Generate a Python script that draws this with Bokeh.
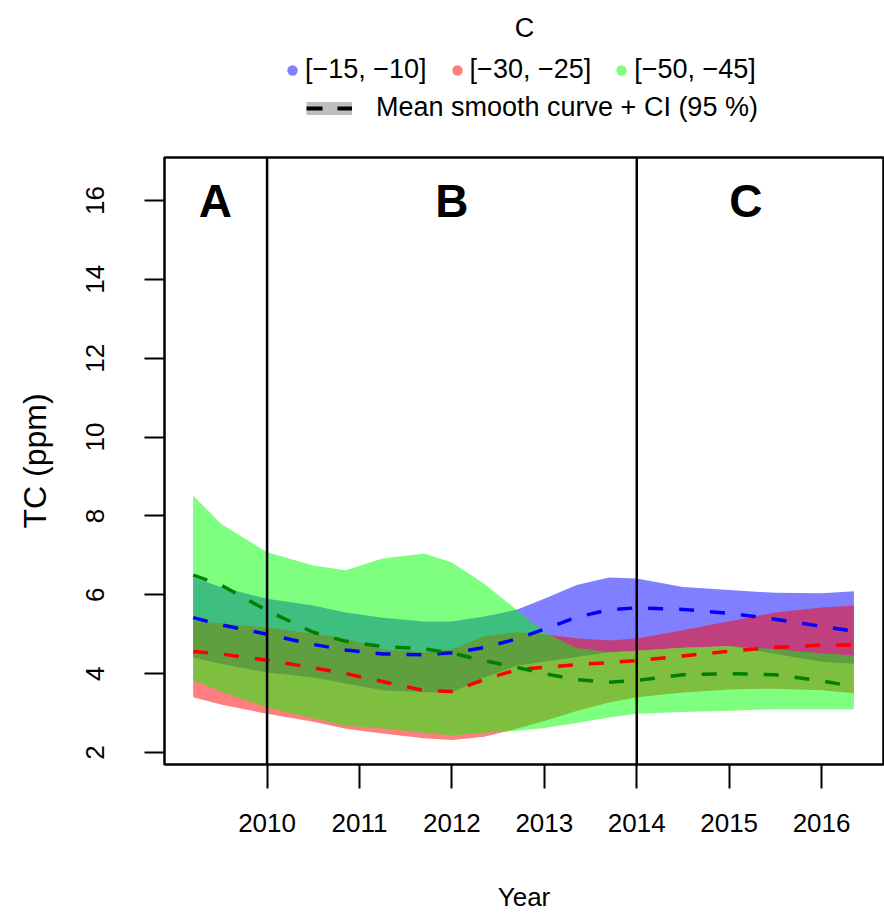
from bokeh.plotting import figure
from bokeh.layouts import column
from bokeh.models import Range1d, FixedTicker, Span, Label, Legend, LegendItem
from bokeh.core.properties import value
from bokeh.embed import file_html
from bokeh.resources import INLINE

# ---------------- data ----------------
years = [2009.2, 2009.5, 2010.0, 2010.5, 2010.85, 2011.25, 2011.7, 2012.0, 2012.35,
         2012.7, 2013.0, 2013.35, 2013.7, 2014.0, 2014.5, 2015.0, 2015.5, 2016.0, 2016.35]

blue_mean  = [5.42, 5.24, 5.00, 4.74, 4.60, 4.50, 4.48, 4.53, 4.66, 4.88, 5.13, 5.43, 5.62, 5.67, 5.63, 5.53, 5.38, 5.20, 5.08]
blue_upper = [6.44, 6.20, 5.90, 5.73, 5.55, 5.42, 5.32, 5.32, 5.45, 5.62, 5.90, 6.25, 6.44, 6.41, 6.20, 6.12, 6.05, 6.04, 6.09]
blue_lower = [4.41, 4.25, 4.03, 3.90, 3.75, 3.58, 3.53, 3.52, 3.90, 4.20, 4.30, 4.42, 4.54, 4.58, 4.66, 4.70, 4.50, 4.30, 4.25]

red_mean  = [4.56, 4.50, 4.34, 4.15, 4.00, 3.80, 3.57, 3.55, 3.85, 4.10, 4.16, 4.23, 4.28, 4.33, 4.45, 4.57, 4.67, 4.72, 4.73]
red_upper = [5.35, 5.27, 5.17, 5.02, 4.89, 4.62, 4.55, 4.62, 4.95, 5.05, 5.00, 4.90, 4.84, 4.89, 5.10, 5.33, 5.55, 5.68, 5.73]
red_lower = [3.40, 3.22, 2.98, 2.78, 2.60, 2.48, 2.36, 2.32, 2.40, 2.60, 2.80, 3.05, 3.27, 3.40, 3.52, 3.60, 3.62, 3.58, 3.50]

green_mean  = [6.50, 6.25, 5.60, 5.05, 4.82, 4.69, 4.63, 4.52, 4.33, 4.16, 4.00, 3.85, 3.78, 3.83, 3.97, 4.00, 3.97, 3.82, 3.67]
green_upper = [8.52, 7.80, 7.08, 6.74, 6.62, 6.92, 7.05, 6.82, 6.28, 5.62, 5.05, 4.65, 4.54, 4.58, 4.66, 4.70, 4.62, 4.52, 4.46]
green_lower = [3.83, 3.55, 3.14, 2.86, 2.68, 2.61, 2.50, 2.43, 2.50, 2.55, 2.62, 2.75, 2.89, 2.98, 3.03, 3.06, 3.10, 3.10, 3.10]

series_labels = ["[\u221215, \u221210]", "[\u221230, \u221225]", "[\u221250, \u221245]"]
legend_title = "C"
mean_label = "Mean smooth curve + CI (95 %)"

x_ticks = [2010, 2011, 2012, 2013, 2014, 2015, 2016]
y_ticks = [2, 4, 6, 8, 10, 12, 14, 16]
period_bounds = [2010, 2014]
panel_labels = ["A", "B", "C"]
panel_x = [2009.44, 2012.0, 2015.18]
panel_y = [15.98, 15.98, 15.98]

FONT = "Liberation Sans"
W = 884
LEG_H = 153
FRAME_L = 164  # left edge of the plot frames (legend strip frame is aligned to it)

# ---------------- legend strip (top) ----------------
lf = figure(width=W, height=LEG_H, output_backend="svg", toolbar_location=None,
            x_range=Range1d(0, 100), y_range=Range1d(0, 100),
            x_axis_type=None, y_axis_type=None,
            min_border_left=0, min_border_right=0, min_border_top=0, min_border_bottom=0)
lf.xgrid.visible = False
lf.ygrid.visible = False
lf.outline_line_color = None
lf.background_fill_color = "white"
lf.border_fill_color = "white"

# legend-only renderers: one point placed far outside the visible range
dot_cols = ["#7f7fff", "#ff7f7f", "#7fff7f"]
dot_rs = [lf.scatter(x=[-1000], y=[-1000], size=12, fill_color=c, line_color=None) for c in dot_cols]
band_r = lf.line(x=[-1000, -999], y=[-1000, -1000], line_color="#bebebe", line_width=13)
dash_r = lf.line(x=[-1000, -999], y=[-1000, -1000], line_color="black", line_width=4, line_dash="16 15")

leg1 = Legend(items=[LegendItem(label=l, renderers=[r]) for l, r in zip(series_labels, dot_rs)],
              orientation="horizontal", location=(279 - FRAME_L, 68), glyph_width=26, glyph_height=30,
              label_height=30, label_standoff=0, spacing=17, padding=0, margin=0,
              border_line_color=None, background_fill_alpha=0,
              label_text_font=FONT, label_text_font_size="27px", label_text_color="black")
leg2 = Legend(items=[LegendItem(label=mean_label, renderers=[band_r, dash_r])],
              orientation="horizontal", location=(306 - FRAME_L, 30), glyph_width=46, glyph_height=30,
              label_height=30, label_standoff=24, padding=0, margin=0,
              border_line_color=None, background_fill_alpha=0,
              label_text_font=FONT, label_text_font_size="27px", label_text_color="black")
lf.add_layout(leg1)
lf.add_layout(leg2)
lf.add_layout(Label(x=524 - FRAME_L, y=126, x_units="screen", y_units="screen", text=legend_title,
                    text_align="center", text_baseline="alphabetic", text_font=FONT,
                    text_font_size="27px", text_color="black"))

# ---------------- main plot ----------------
p = figure(width=W, height=919 - LEG_H, output_backend="svg", toolbar_location=None,
           x_range=Range1d(2008.89, 2016.67), y_range=Range1d(1.696, 17.09),
           min_border_left=FRAME_L, min_border_right=1, min_border_top=4,
           min_border_bottom=919 - LEG_H - 4 - 607)
p.xgrid.visible = False
p.ygrid.visible = False
p.background_fill_color = "white"
p.border_fill_color = "white"
p.outline_line_color = "black"
p.outline_line_width = 2.5

for ax in (p.xaxis, p.yaxis):
    ax.axis_line_color = None
    ax.major_tick_in = 0
    ax.minor_tick_line_color = None
    ax.major_tick_line_color = "black"
    ax.major_tick_line_width = 2
    ax.major_label_text_font = FONT
    ax.major_label_text_font_size = "26px"
    ax.major_label_text_color = "black"
    ax.axis_label_text_font = FONT
    ax.axis_label_text_font_style = "normal"
    ax.axis_label_text_color = "black"

p.xaxis.ticker = FixedTicker(ticks=x_ticks)
p.xaxis.major_tick_out = 24
p.xaxis.major_label_standoff = 25
p.xaxis.axis_label = "Year"
p.xaxis.axis_label_text_font_size = "26px"
p.xaxis.axis_label_standoff = 47

p.yaxis.ticker = FixedTicker(ticks=y_ticks)
p.yaxis.major_tick_out = 20
p.yaxis.major_label_orientation = "vertical"
p.yaxis.major_label_standoff = 40
p.yaxis.axis_label = "TC (ppm)"
p.yaxis.axis_label_text_font_size = "32px"
p.yaxis.axis_label_standoff = 31

band_cols = ["#0000ff", "#ff0000", "#00ff00"]
line_cols = ["#0000ff", "#ff0000", "#008000"]
uppers = [blue_upper, red_upper, green_upper]
lowers = [blue_lower, red_lower, green_lower]
means = [blue_mean, red_mean, green_mean]
for up, lo, c in zip(uppers, lowers, band_cols):
    p.varea(x=years, y1=lo, y2=up, fill_color=c, fill_alpha=0.5)

for m, c in zip(means, line_cols):
    p.line(x=years, y=m, line_color=c, line_width=3.5, line_dash="15 16")

for b in period_bounds:
    p.add_layout(Span(location=b, dimension="height", line_color="black", line_width=2.5))

p.text(x=panel_x, y=panel_y, text=panel_labels, text_font=value(FONT), text_font_style="bold",
       text_font_size="46px", text_align="center", text_baseline="alphabetic", text_color="black")

layout = column(lf, p, spacing=0)
open("out.html", "w").write(file_html(layout, INLINE))
